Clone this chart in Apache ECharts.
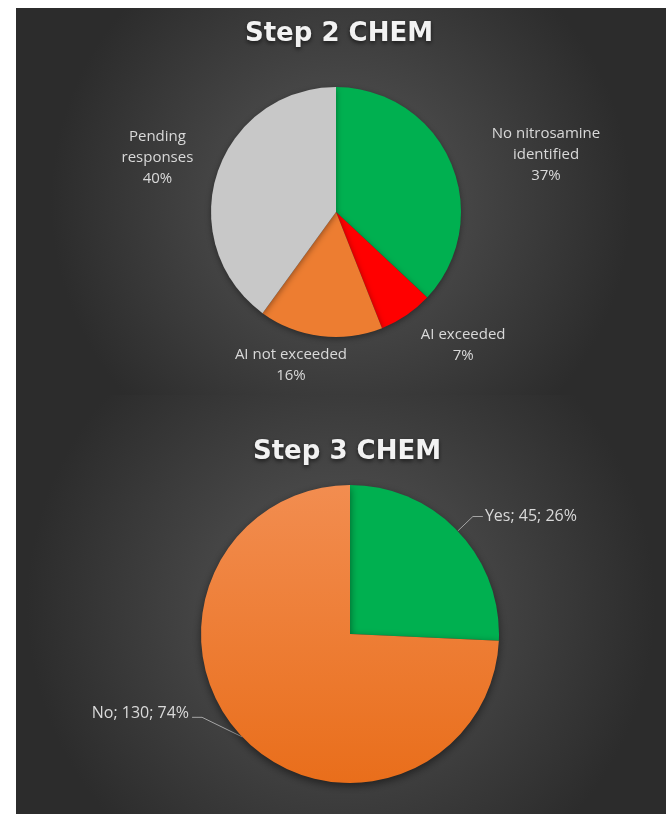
<!DOCTYPE html>
<html>
<head>
<meta charset="utf-8">
<script src="https://cdn.jsdelivr.net/npm/echarts@6/dist/echarts.min.js"></script>
<style>
html,body{margin:0;padding:0;background:#ffffff;}
#main{width:666px;height:814px;}
</style>
</head>
<body>
<div id="main"></div>
<script>
// ---- data ----
const step2Title = 'Step 2 CHEM';
const step2Categories = ['No nitrosamine\nidentified', 'AI exceeded', 'AI not exceeded', 'Pending\nresponses'];
const step2Values = [37, 7, 16, 40];
const step2Colors = ['#00B050', '#FF0000', '#ED7D31', '#C8C8C8'];

const step3Title = 'Step 3 CHEM';
const step3Categories = ['Yes', 'No'];
const step3Values = [45, 130];

// ---- label styling (line lengths, small nudges) ----
const step2LineLen = [36, 26, 27, 25];
const step2LineLen2 = [8, 0, 0, 0];
const step2Nudge = [[0, 7], [0, 8], [-26, 2], [0, -8]];
const step3LineLen = [21, 28];
const step3LineLen2 = [10, 20];
const step3Nudge = [[0, 0], [-11, -43]];

const chart = echarts.init(document.getElementById('main'));

function panelBg(y, h) {
  return {
    type: 'rect',
    shape: { x: 16, y: y, width: 650, height: h },
    silent: true,
    z: -10,
    style: {
      fill: new echarts.graphic.RadialGradient(0.5, 0.5, 0.75, [
        { offset: 0, color: '#585858' },
        { offset: 1, color: '#2c2c2c' }
      ])
    }
  };
}

const orangeGrad = new echarts.graphic.LinearGradient(0, 0, 0, 1, [
  { offset: 0, color: '#F28D50' },
  { offset: 1, color: '#E96E1B' }
]);
const step3Colors = ['#00B050', orangeGrad];

const titleStyle = {
  color: '#F2F2F2',
  fontFamily: 'DejaVu Sans',
  fontWeight: 'bold',
  fontSize: 26,
  textShadowColor: 'rgba(0,0,0,0.6)',
  textShadowBlur: 4,
  textShadowOffsetY: 2
};

const labelFont = {
  color: '#D9D9D9',
  fontFamily: 'Open Sans',
  fontSize: 15,
  lineHeight: 21
};

chart.setOption({
  backgroundColor: '#ffffff',
  animation: false,
  graphic: [panelBg(8, 387), panelBg(395, 419)],
  title: [
    { text: step2Title, left: 334, top: 16, textAlign: 'center', textStyle: titleStyle },
    { text: step3Title, left: 342, top: 434, textAlign: 'center', textStyle: titleStyle }
  ],
  series: [
    {
      type: 'pie',
      center: [336, 212],
      radius: 125,
      startAngle: 90,
      clockwise: true,
      percentPrecision: 0,
      avoidLabelOverlap: false,
      itemStyle: { shadowBlur: 6, shadowColor: 'rgba(0,0,0,0.4)', shadowOffsetY: 2 },
      label: Object.assign({ show: true, position: 'outside', formatter: '{b}\n{d}%', distanceToLabelLine: 0 }, labelFont),
      labelLine: { show: true, lineStyle: { opacity: 0 } },
      labelLayout: function (p) {
        const w = p.labelRect.width;
        let dx = (p.align === 'left' ? 1 : -1) * w / 2;
        const pts = p.labelLinePoints;
        if (pts) {
          const ux = pts[1][0] - pts[0][0], uy = pts[1][1] - pts[0][1];
          const len = Math.sqrt(ux * ux + uy * uy) || 1;
          if (Math.abs(ux / len) < 0.3) dx = 0;
        }
        const n = step2Nudge[p.dataIndex];
        return { align: 'center', dx: dx + n[0], dy: n[1] };
      },
      data: step2Categories.map((c, i) => ({
        name: c,
        value: step2Values[i],
        itemStyle: { color: step2Colors[i] },
        labelLine: { length: step2LineLen[i], length2: step2LineLen2[i] }
      }))
    },
    {
      type: 'pie',
      center: [350, 634],
      radius: 149,
      startAngle: 90,
      clockwise: true,
      percentPrecision: 0,
      avoidLabelOverlap: false,
      itemStyle: { shadowBlur: 8, shadowColor: 'rgba(0,0,0,0.5)', shadowOffsetY: 3 },
      label: Object.assign({ show: true, position: 'outside', formatter: '{b}; {c}; {d}%', distanceToLabelLine: 2 }, labelFont, { fontSize: 16 }),
      labelLine: { show: true, smooth: false, lineStyle: { color: '#A6A6A6', width: 1 } },
      labelLayout: function (p) {
        const n = step3Nudge[p.dataIndex];
        if (!n[0] && !n[1]) return {};
        const r = p.labelRect;
        const onLeft = p.align === 'right';
        const ax = (onLeft ? r.x + r.width : r.x) + n[0];
        const ay = r.y + r.height / 2 + n[1];
        const edge = p.labelLinePoints[0];
        const sx = onLeft ? ax + 3 : ax - 3;
        const ly = ay + 4;
        return {
          x: ax, y: ay,
          labelLinePoints: [edge, [onLeft ? sx + 10 : sx - 10, ly], [sx, ly]]
        };
      },
      data: step3Categories.map((c, i) => ({
        name: c,
        value: step3Values[i],
        itemStyle: { color: step3Colors[i] },
        labelLine: { length: step3LineLen[i], length2: step3LineLen2[i] }
      }))
    }
  ]
});
</script>
</body>
</html>
